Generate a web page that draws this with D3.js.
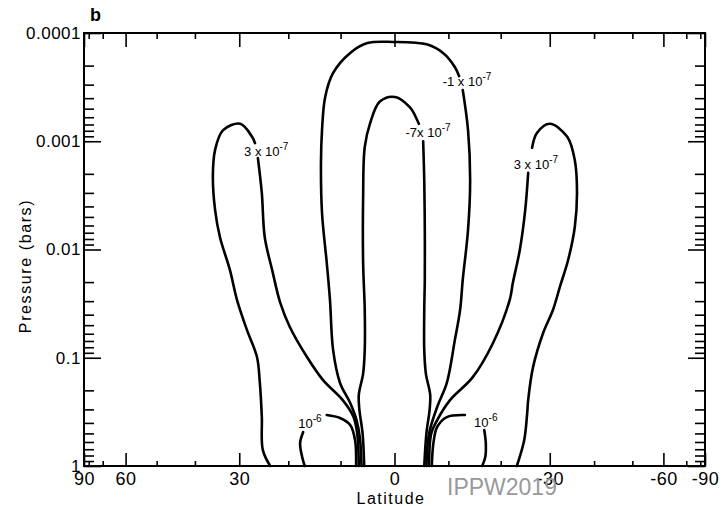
<!DOCTYPE html>
<html>
<head>
<meta charset="utf-8">
<script src="https://cdn.jsdelivr.net/npm/d3@7"></script>
<style>
  body { margin: 0; background: #fff; }
  svg { display: block; font-family: "Liberation Sans", Arial, sans-serif; }
</style>
</head>
<body>
<svg width="723" height="506"></svg>
<script>
// axis values
const latMajor = [90, 60, 30, 0, -30, -60, -90];
const latMinor = [80, 70, 50, 40, 20, 10, -10, -20, -40, -50, -70, -80];
const pressureMajor = [1e-4, 1e-3, 1e-2, 1e-1, 1];
const pressureLabels = ["0.0001", "0.001", "0.01", "0.1", "1"];

// contours as [latitude, pressure in bars], split where the labels sit
const north3Outer = [
  [23.6, 1], [25.1, 0.71], [25.3, 0.35], [25.7, 0.171], [26.3, 0.098],
  [28.4, 0.055], [30.5, 0.029], [32.0, 0.0155], [34.2, 0.0077], [35.3, 0.0043],
  [35.8, 0.0021], [35.3, 0.0012], [33.5, 0.00079], [29.8, 0.00069],
  [27.3, 0.00091], [26.7, 0.00104]
];
const north3Inner = [
  [26.1, 0.00143], [25.3, 0.003], [24.7, 0.0077], [23.2, 0.0155], [21.6, 0.031],
  [19.7, 0.052], [16.4, 0.098], [13.3, 0.161], [9.6, 0.246], [7.6, 0.35],
  [6.9, 0.5], [6.6, 1]
];
const minus1Left = [
  [6.1, 1], [6.4, 0.55], [7.0, 0.38], [8.2, 0.262], [10.1, 0.171], [11.4, 0.085],
  [12.0, 0.029], [12.6, 0.0133], [13.5, 0.0046], [13.7, 0.0016], [13.5, 0.00079],
  [12.9, 0.00039], [11.4, 0.000234], [8.2, 0.000153], [5.0, 0.000124],
  [0.3, 0.000121], [-6.1, 0.000128], [-9.0, 0.000153], [-11.2, 0.000206],
  [-12.0, 0.00025]
];
const minus1Right = [
  [-12.7, 0.000336], [-13.7, 0.00079], [-14.1, 0.0023], [-13.7, 0.0066],
  [-12.7, 0.019], [-12.2, 0.036], [-11.2, 0.069], [-9.7, 0.171], [-7.9, 0.285],
  [-6.4, 0.5], [-5.9, 1]
];
const minus7Left = [
  [5.6, 1], [5.9, 0.5], [6.5, 0.3], [6.6, 0.22], [5.8, 0.14], [5.5, 0.085],
  [5.5, 0.036], [5.8, 0.0133], [5.8, 0.0033], [5.5, 0.00113], [4.5, 0.00068],
  [2.7, 0.00043], [-0.1, 0.00039], [-2.9, 0.00049], [-4.2, 0.00064], [-4.5, 0.00069]
];
const minus7Right = [
  [-5.3, 0.001], [-5.5, 0.0023], [-5.6, 0.0066], [-5.6, 0.019], [-5.5, 0.036],
  [-5.5, 0.085], [-5.8, 0.14], [-6.6, 0.22], [-6.5, 0.3], [-5.9, 0.5], [-5.5, 1]
];
const south3Inner = [
  [-6.4, 1], [-6.8, 0.5], [-7.9, 0.376], [-10.3, 0.246], [-14.6, 0.151],
  [-18.5, 0.073], [-21.8, 0.029], [-22.4, 0.0204], [-23.8, 0.0101],
  [-24.9, 0.0043], [-25.5, 0.00196]
];
const south3Outer = [
  [-26.3, 0.00115], [-27.3, 0.00084], [-30.0, 0.00069], [-33.8, 0.00091],
  [-35.5, 0.0015], [-36.0, 0.003], [-35.5, 0.0062], [-34.0, 0.0125],
  [-32.2, 0.022], [-30.7, 0.036], [-28.6, 0.059], [-26.5, 0.122],
  [-25.5, 0.246], [-25.3, 0.324], [-24.7, 0.575], [-23.2, 1]
];
const north6Leg = [[16.8, 1], [17.3, 0.826], [17.7, 0.614], [17.1, 0.485]];
const north6Arc = [[12.6, 0.338], [10.1, 0.36], [8.2, 0.418], [7.3, 0.575], [7.1, 1]];
const south6Arc = [[-6.9, 1], [-7.2, 0.614], [-7.9, 0.436], [-9.7, 0.353], [-13.1, 0.338]];
const south6Leg = [[-16.8, 0.465], [-17.1, 0.614], [-17.0, 0.826], [-16.4, 1]];

const contours = [
  north3Outer, north3Inner, minus1Left, minus1Right, minus7Left, minus7Right,
  south3Inner, south3Outer, north6Leg, north6Arc, south6Arc, south6Leg
];

// label text: [mantissa, exponent, latitude, pressure]
const contourLabels = [
  ["3 x 10", "-7", 24.4, 0.00137],
  ["-1 x 10", "-7", -13.5, 0.00031],
  ["-7x 10", "-7", -6.2, 0.00091],
  ["3 x 10", "-7", -27.1, 0.0018],
  ["10", "-6", 15.8, 0.445],
  ["10", "-6", -17.1, 0.436]
];

const margin = { left: 84, right: 18, top: 33, bottom: 40 };
const svg = d3.select("svg");
const width = +svg.attr("width");
const height = +svg.attr("height");
const innerWidth = width - margin.left - margin.right;
const innerHeight = height - margin.top - margin.bottom;
const g = svg
  .append("g")
  .attr("transform", `translate(${margin.left},${margin.top})`);

const sinLat = d => Math.sin((d * Math.PI) / 180);
// latitude axis is linear in sin(latitude)
const xScale = d3.scaleLinear().domain([1, -1]).range([0, innerWidth]);
const yScale = d3.scaleLog().domain([1e-4, 1]).range([0, innerHeight]);
const pressureMinor = yScale.ticks().filter(d => !pressureMajor.some(m => Math.abs(m - d) < d * 1e-6));

function styleAxis(sel, size) {
  sel.select(".domain").remove();
  sel.selectAll(".tick line").attr("stroke", "#000").attr("stroke-width", 1.6);
  sel.selectAll(".tick text")
    .attr("fill", "#000")
    .style("font-family", '"Liberation Sans", Arial, sans-serif')
    .style("font-size", size + "px")
    .style("letter-spacing", "0.5px");
}
// tick marks only, no text
function bareTicks(sel) {
  styleAxis(sel, 10);
  sel.selectAll(".tick text").remove();
}

// bottom
g.append("g").attr("transform", `translate(0,${innerHeight})`)
  .call(d3.axisBottom(xScale).tickValues(latMinor.map(sinLat)).tickSize(-5))
  .call(bareTicks);
g.append("g").attr("transform", `translate(0,${innerHeight})`)
  .call(d3.axisBottom(xScale).tickValues(latMajor.map(sinLat)).tickSize(-13).tickPadding(6)
    .tickFormat((d, i) => latMajor[i]))
  .call(s => styleAxis(s, 18));
// top
g.append("g")
  .call(d3.axisTop(xScale).tickValues(latMinor.map(sinLat)).tickSize(-6))
  .call(bareTicks);
g.append("g")
  .call(d3.axisTop(xScale).tickValues(latMajor.map(sinLat)).tickSize(-14))
  .call(bareTicks);
// left
g.append("g")
  .call(d3.axisLeft(yScale).tickValues(pressureMinor).tickSize(-10))
  .call(bareTicks);
g.append("g")
  .call(d3.axisLeft(yScale).tickValues(pressureMajor).tickSize(-17).tickPadding(3)
    .tickFormat((d, i) => pressureLabels[i]))
  .call(s => styleAxis(s, 17));
// right
g.append("g").attr("transform", `translate(${innerWidth},0)`)
  .call(d3.axisRight(yScale).tickValues(pressureMinor).tickSize(-10))
  .call(bareTicks);
g.append("g").attr("transform", `translate(${innerWidth},0)`)
  .call(d3.axisRight(yScale).tickValues(pressureMajor).tickSize(-17))
  .call(bareTicks);

g.append("rect")
  .attr("width", innerWidth)
  .attr("height", innerHeight)
  .attr("fill", "none")
  .attr("stroke", "#000")
  .attr("stroke-width", 2);

const line = d3.line()
  .x(d => xScale(sinLat(d[0])))
  .y(d => yScale(d[1]))
  .curve(d3.curveCatmullRom.alpha(0.5));

g.selectAll("path.contour")
  .data(contours)
  .enter()
  .append("path")
  .attr("class", "contour")
  .attr("d", line)
  .attr("fill", "none")
  .attr("stroke", "#000")
  .attr("stroke-width", 2.6)
  .attr("stroke-linecap", "round");

const labels = g.selectAll("text.clabel")
  .data(contourLabels)
  .enter()
  .append("text")
  .attr("class", "clabel")
  .attr("x", d => xScale(sinLat(d[2])))
  .attr("y", d => yScale(d[3]))
  .attr("text-anchor", "middle")
  .attr("fill", "#000")
  .style("font-size", "13px");
labels.append("tspan").text(d => d[0]);
labels.append("tspan").attr("dy", -6).style("font-size", "10px").text(d => d[1]);

// titles
svg.append("text")
  .attr("x", 90)
  .attr("y", 21)
  .style("font-size", "18px")
  .style("font-weight", "bold")
  .text("b");

svg.append("text")
  .attr("transform", "rotate(-90)")
  .attr("x", -266)
  .attr("y", 31)
  .attr("text-anchor", "middle")
  .style("font-size", "16px")
  .style("letter-spacing", "1.6px")
  .text("Pressure  (bars)");

svg.append("text")
  .attr("x", 391)
  .attr("y", 504)
  .attr("text-anchor", "middle")
  .style("font-size", "16px")
  .style("letter-spacing", "1.5px")
  .text("Latitude");

svg.append("text")
  .attr("x", 447)
  .attr("y", 495)
  .attr("fill", "#999")
  .style("font-size", "23px")
  .text("IPPW2019");
</script>
</body>
</html>
